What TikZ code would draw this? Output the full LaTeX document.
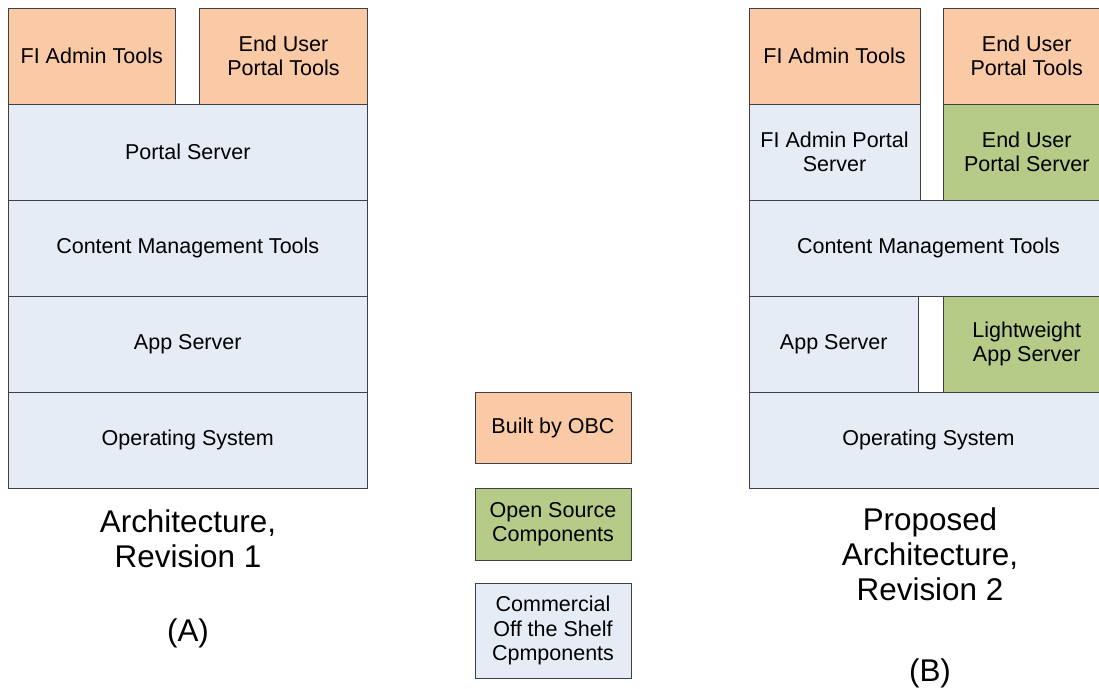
\documentclass[tikz,border=0pt]{standalone}
\usepackage{fontspec}
\setmainfont{Liberation Sans}
\definecolor{obc}{HTML}{FAC9A5}
\definecolor{oss}{HTML}{B6CB88}
\definecolor{cots}{HTML}{E6ECF6}
\definecolor{edge}{HTML}{404040}
\begin{document}
\begin{tikzpicture}[x=1pt,y=-1pt,
  blk/.style={draw=edge,line width=0.9pt,inner sep=0pt,align=center,
    font=\fontsize{21.5}{24.5}\selectfont},
  obcbox/.style={blk,fill=obc},
  ossbox/.style={blk,fill=oss},
  cotsbox/.style={blk,fill=cots},
  caption/.style={align=center,font=\fontsize{31.4}{35}\selectfont}]
\useasboundingbox (0,0) rectangle (1099,688);
\newcommand{\blkbox}[6]{\node[#1,minimum width=#4-#2,minimum height=#5-#3] (#6) at ({(#2+#4)/2},{(#3+#5)/2})}
% Left stack (A)
\blkbox{obcbox}{8}{8}{175.5}{104}{aFI} {FI Admin Tools};
\blkbox{obcbox}{199.5}{8}{367.5}{104}{aEU} {End User\\Portal Tools};
\blkbox{cotsbox}{8}{104}{367.5}{200}{aPS} {Portal Server};
\blkbox{cotsbox}{8}{200}{367.5}{296}{aCM} {Content Management Tools};
\blkbox{cotsbox}{8}{296}{367.5}{392}{aAS} {App Server};
\blkbox{cotsbox}{8}{392}{367.5}{488}{aOS} {Operating System};
% Right stack (B)
\blkbox{obcbox}{749}{8}{920}{104}{bFI} {FI Admin Tools};
\blkbox{obcbox}{943.5}{8}{1110}{104}{bEU} {End User\\Portal Tools};
\blkbox{cotsbox}{749}{104}{920}{200}{bFIPS} {FI Admin Portal\\Server};
\blkbox{ossbox}{943.5}{104}{1110}{200}{bEUPS} {End User\\Portal Server};
\blkbox{cotsbox}{749}{200}{1108}{296}{bCM} {Content Management Tools};
\blkbox{cotsbox}{749}{296}{918.5}{392}{bAS} {App Server};
\blkbox{ossbox}{943.5}{296}{1110}{392}{bLAS} {Lightweight\\App Server};
\blkbox{cotsbox}{749}{392}{1108}{488}{bOS} {Operating System};
% Legend
\blkbox{obcbox}{475}{392}{631}{463.5}{lOBC} {Built by OBC};
\blkbox{ossbox}{475}{488}{631}{560}{lOSS} {Open Source\\Components};
\blkbox{cotsbox}{475}{583.5}{631}{678}{lCOTS} {Commercial\\Off the Shelf\\Cpmponents};
% Captions
\node[caption] (capA) at (188,539) {Architecture,\\Revision 1};
\node[caption] (labA) at (188,633) {(A)};
\node[caption] (capB) at (930,554) {Proposed\\Architecture,\\Revision 2};
\node[caption] (labB) at (930,673) {(B)};
\end{tikzpicture}
\end{document}
